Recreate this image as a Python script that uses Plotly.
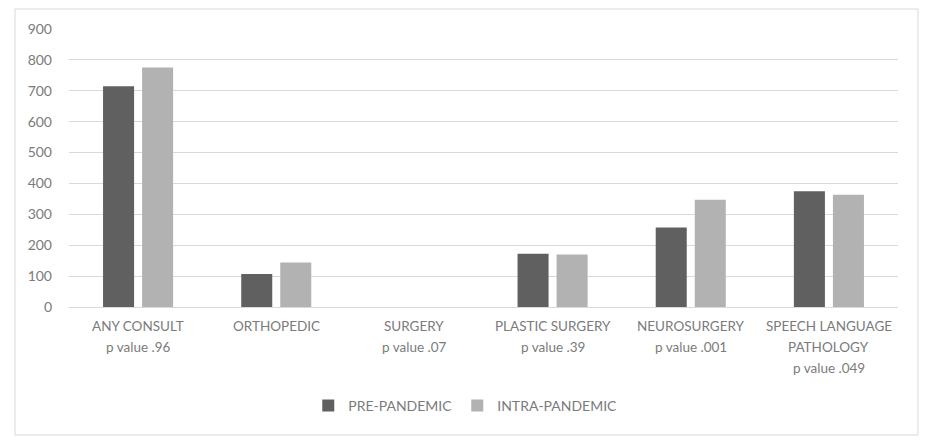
import plotly.graph_objects as go

categories = [
    "ANY CONSULT<br>p value .96",
    "ORTHOPEDIC",
    "SURGERY<br>p value .07",
    "PLASTIC SURGERY<br>p value .39",
    "NEUROSURGERY<br>p value .001",
    "SPEECH LANGUAGE<br>PATHOLOGY<br>p value .049",
]
pre_pandemic = [715, 107, 0, 172, 257, 375]
intra_pandemic = [775, 144, 0, 170, 347, 363]
series_names = ["PRE-PANDEMIC", "INTRA-PANDEMIC"]
y_ticks = [0, 100, 200, 300, 400, 500, 600, 700, 800, 900]

W, H = 948, 447
L, R, T, B = 69, 50, 29, 140
FONT = "Lato"
TXT = "#7b7b7b"

fig = go.Figure()
fig.add_trace(go.Bar(x=categories, y=pre_pandemic, name=series_names[0],
                     marker=dict(color="#606060", line=dict(width=0))))
fig.add_trace(go.Bar(x=categories, y=intra_pandemic, name=series_names[1],
                     marker=dict(color="#b2b2b2", line=dict(width=0))))

# category labels as multi-line annotations (wider line spacing than ticks)
for cat in categories:
    for i, line in enumerate(cat.split("<br>")):
        fig.add_annotation(x=cat, xref="x", y=0, yref="y", text=line,
                           showarrow=False, xanchor="center", yanchor="middle",
                           yshift=-(19 + 21 * i),
                           font=dict(family=FONT, size=13.5, color=TXT))

pw = W - L - R
ph = H - T - B
fig.add_shape(type="rect", xref="paper", yref="paper",
              x0=(15 - L) / pw, x1=(918 - L) / pw,
              y0=(H - B - 435) / ph, y1=(H - B - 9) / ph,
              line=dict(color="#d9d9d9", width=1), layer="below")

fig.update_layout(
    width=W, height=H,
    margin=dict(l=L, r=R, t=T, b=B),
    paper_bgcolor="white", plot_bgcolor="white",
    font=dict(family=FONT, size=13.5, color=TXT),
    barmode="group", bargap=0.435, bargroupgap=0.205,
    showlegend=True,
    legend=dict(orientation="h", x=0.478, xanchor="center",
                y=(H - B - 406) / ph, yanchor="middle",
                itemwidth=30, font=dict(family=FONT, size=14, color=TXT),
                traceorder="normal"),
    xaxis=dict(showline=True, linecolor="#d9d9d9", linewidth=1, showgrid=False,
               ticks="", showticklabels=False, fixedrange=True),
    yaxis=dict(range=[0, 900], tickvals=y_ticks, showgrid=True, gridcolor="#d9d9d9",
               gridwidth=1, zeroline=False, showline=False, ticks="",
               ticklabelstandoff=16, tickfont=dict(family=FONT, size=14, color=TXT),
               fixedrange=True),
)

fig.write_html("out.html", config={"displayModeBar": False},
               post_script="document.body.style.margin='0';")
